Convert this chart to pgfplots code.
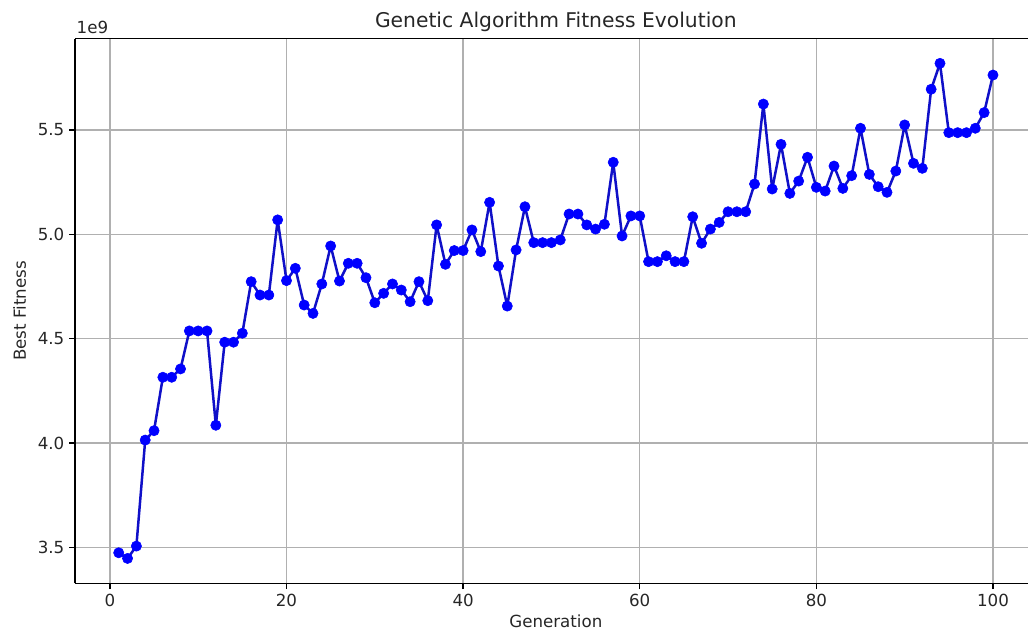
\documentclass[border=0pt]{standalone}
\usepackage{fontspec}
\setmainfont{DejaVu Sans}
\usepackage{pgfplots}
\pgfplotsset{compat=1.18}
\usepackage{pgfplotstable}

% best fitness per generation
\pgfplotstableread{
gen fit
1 3.474e9
2 3.447e9
3 3.506e9
4 4.014e9
5 4.059e9
6 4.315e9
7 4.315e9
8 4.355e9
9 4.537e9
10 4.537e9
11 4.537e9
12 4.085e9
13 4.483e9
14 4.483e9
15 4.526e9
16 4.773e9
17 4.709e9
18 4.709e9
19 5.069e9
20 4.778e9
21 4.837e9
22 4.661e9
23 4.621e9
24 4.762e9
25 4.944e9
26 4.776e9
27 4.861e9
28 4.861e9
29 4.792e9
30 4.672e9
31 4.717e9
32 4.762e9
33 4.733e9
34 4.677e9
35 4.773e9
36 4.682e9
37 5.045e9
38 4.856e9
39 4.922e9
40 4.922e9
41 5.021e9
42 4.917e9
43 5.153e9
44 4.848e9
45 4.656e9
46 4.925e9
47 5.132e9
48 4.960e9
49 4.960e9
50 4.960e9
51 4.973e9
52 5.097e9
53 5.097e9
54 5.045e9
55 5.025e9
56 5.048e9
57 5.345e9
58 4.992e9
59 5.088e9
60 5.088e9
61 4.869e9
62 4.869e9
63 4.897e9
64 4.869e9
65 4.869e9
66 5.084e9
67 4.957e9
68 5.025e9
69 5.057e9
70 5.108e9
71 5.108e9
72 5.108e9
73 5.241e9
74 5.624e9
75 5.217e9
76 5.431e9
77 5.196e9
78 5.255e9
79 5.369e9
80 5.225e9
81 5.207e9
82 5.327e9
83 5.220e9
84 5.281e9
85 5.508e9
86 5.287e9
87 5.228e9
88 5.201e9
89 5.303e9
90 5.524e9
91 5.340e9
92 5.316e9
93 5.695e9
94 5.819e9
95 5.487e9
96 5.487e9
97 5.487e9
98 5.508e9
99 5.583e9
100 5.763e9
}\fitdata

\definecolor{gridgray}{HTML}{B0B0B0}
\definecolor{txt}{HTML}{262626}
\definecolor{linecol}{HTML}{1010C8}

\begin{document}
\begin{tikzpicture}
\begin{axis}[
  at={(54pt,35.1pt)}, anchor=south west,
  scale only axis,
  width=692.4pt, height=392.2pt,
  xmin=-3.95, xmax=104.95,
  ymin=3.328e9, ymax=5.938e9,
  xtick={0,20,40,60,80,100},
  ytick={3.5e9,4.0e9,4.5e9,5.0e9,5.5e9},
  scaled y ticks=base 10:-9,
  ytick scale label code/.code={1e9},
  every y tick scale label/.style={at={(rel axis cs:0,1)}, anchor=south west, inner sep=1pt, yshift=2pt, font=\fontsize{12}{14}\selectfont, text=txt},
  yticklabel style={/pgf/number format/fixed, /pgf/number format/fixed zerofill, /pgf/number format/precision=1},
  /pgf/number format/assume math mode=true,
  tick label style={font=\fontsize{12}{14}\selectfont, text=txt},
  axis x line*=box, axis y line*=left,
  xtick pos=bottom,
  tick align=outside,
  major tick length=4.2pt,
  every tick/.style={black, line width=0.9pt},
  axis line style={black, line width=0.95pt},
  grid=major,
  major grid style={gridgray, line width=0.9pt},
  title={Genetic Algorithm Fitness Evolution},
  title style={at={(axis description cs:0.5,1)}, anchor=base, yshift=1.6pt, font=\fontsize{14.6}{17}\selectfont, text=txt},
  xlabel={Generation},
  xlabel style={at={(axis description cs:0.5,0)}, anchor=base, yshift=-31.5pt, font=\fontsize{12}{14}\selectfont, text=txt},
  ylabel={Best Fitness},
  ylabel style={at={(axis description cs:-0.051,0.5)}, anchor=base, font=\fontsize{12}{14}\selectfont, text=txt},
  clip=false,
]
\addplot[linecol, line width=1.8pt, line join=round, mark=*, mark size=3.7pt, mark options={fill=blue, draw=blue, line width=0.4pt}]
  table[x=gen, y=fit] {\fitdata};
\end{axis}
\pgfresetboundingbox
\useasboundingbox (0,0) rectangle (740.16pt,455.04pt);
\end{tikzpicture}
\end{document}
